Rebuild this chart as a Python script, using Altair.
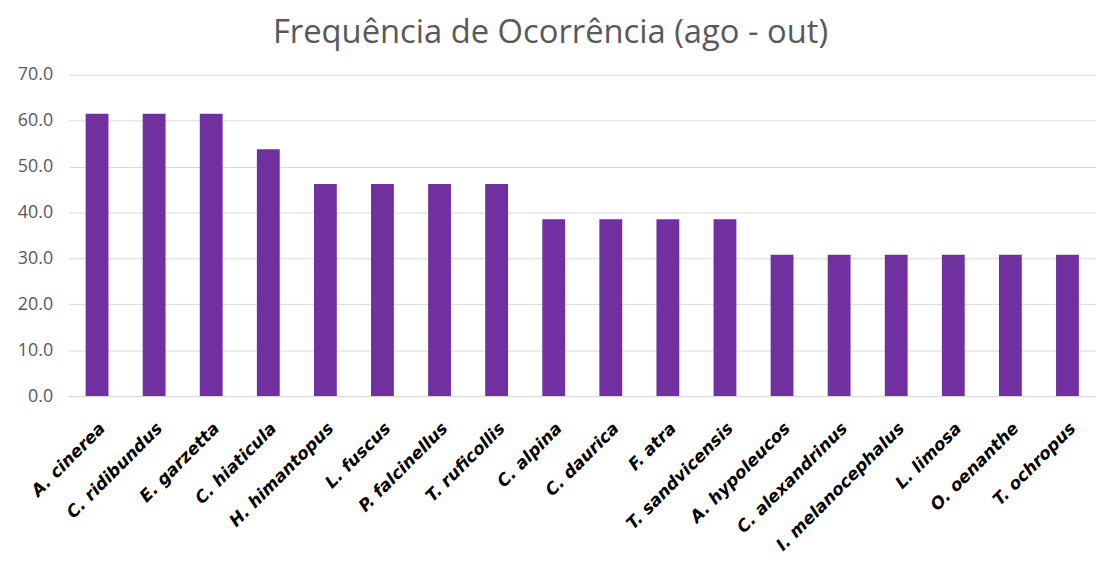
import altair as alt
import pandas as pd

species = ["A. cinerea", "C. ridibundus", "E. garzetta", "C. hiaticula", "H. himantopus",
           "L. fuscus", "P. falcinellus", "T. ruficollis", "C. alpina", "C. daurica",
           "F. atra", "T. sandvicensis", "A. hypoleucos", "C. alexandrinus",
           "I. melanocephalus", "L. limosa", "O. oenanthe", "T. ochropus"]
values = [61.5, 61.5, 61.5, 53.8, 46.2, 46.2, 46.2, 46.2, 38.5, 38.5,
          38.5, 38.5, 30.8, 30.8, 30.8, 30.8, 30.8, 30.8]

df = pd.DataFrame({"species": species, "freq": values})

chart = alt.Chart(df).mark_bar(color="#7030A0").encode(
    x=alt.X("species:N", sort=species, title=None,
            scale=alt.Scale(paddingInner=0.6, paddingOuter=0.3),
            axis=alt.Axis(labelAngle=-45, labelFont="DejaVu Sans", labelFontSize=17,
                          labelFontWeight="bold", labelFontStyle="italic",
                          labelColor="#000000", ticks=False, domain=True,
                          domainColor="#d9d9d9", labelPadding=24)),
    y=alt.Y("freq:Q", title=None,
            scale=alt.Scale(domain=[0, 70]),
            axis=alt.Axis(values=[0, 10, 20, 30, 40, 50, 60, 70], format=".1f",
                          labelFont="Open Sans", labelFontSize=18, labelColor="#595959",
                          ticks=False, domain=False, gridColor="#d9d9d9",
                          labelPadding=16)),
).properties(
    width=1036, height=324,
    title=alt.TitleParams("Frequência de Ocorrência (ago - out)", font="Open Sans",
                          fontSize=33, fontWeight="normal", color="#595959",
                          anchor="middle", dx=-32, offset=16),
    autosize=alt.AutoSizeParams(type="none"),
    padding={"left": 61, "top": 65, "right": 0, "bottom": 170},
).configure_view(stroke=None)

chart.save("out.html", embed_options={"renderer": "svg", "actions": False})
